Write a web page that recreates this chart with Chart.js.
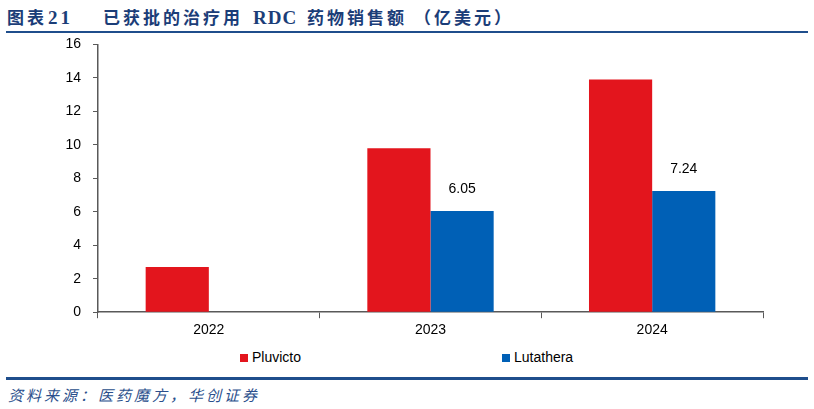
<!DOCTYPE html>
<html>
<head>
<meta charset="utf-8">
<script src="https://cdn.jsdelivr.net/npm/chart.js@4"></script>
<style>
  body { margin: 0; width: 814px; height: 409px; background: #fff; position: relative; overflow: hidden; }
  #title { position: absolute; left: 7px; top: 4px; font: bold 17px "Liberation Serif", "Noto Sans CJK SC"; color: #1b3d78; letter-spacing: 3px; white-space: nowrap; }
  #title span { display: inline-block; }
  #title .lat { font-size: 19px; letter-spacing: 1px; }
  #topline { position: absolute; left: 6px; right: 6px; top: 31px; height: 2px; background: #1f4e8c; }
  #wrap { position: absolute; left: 0; top: 24px; width: 814px; height: 319px; }
  .leg { position: absolute; top: 349px; font: 14px "Liberation Sans", Arial; color: #000; }
  .leg i { display: inline-block; width: 8px; height: 8px; margin-right: 4px; }
  #botline { position: absolute; left: 6px; right: 6px; top: 377px; height: 3px; background: #1f4e8c; }
  #source { position: absolute; left: 8px; top: 384px; font: italic 15px "Noto Sans CJK SC"; color: #2b4f8c; letter-spacing: 3px; }
</style>
</head>
<body>
<div id="title"><span style="width:41px">图表</span><span class="lat" style="width:55px;letter-spacing:3px">21</span><span style="width:150px">已获批的治疗用</span><span class="lat" style="width:54px">RDC</span><span style="width:107px">药物销售额</span><span>（亿美元）</span></div>
<div id="topline"></div>
<div id="wrap"><canvas id="c"></canvas></div>
<div class="leg" style="left:240px"><i style="background:#e3151d"></i>Pluvicto</div>
<div class="leg" style="left:502px"><i style="background:#0060b6"></i>Lutathera</div>
<div id="botline"></div>
<div id="source">资料来源：医药魔方，华创证券</div>
<script>
// ─── Data ────────────────────────────────
const years = ["2022", "2023", "2024"];
const pluvicto = [2.7, 9.8, 13.9];
const lutathera = [null, 6.05, 7.24];
const yTicks = [0, 2, 4, 6, 8, 10, 12, 14, 16];

const AXIS_COLOR = "#595959";
const TICK_FONT = { family: "Liberation Sans", size: 14 };

// value labels over the Lutathera bars only
const barLabels = {
  id: "barLabels",
  afterDatasetsDraw(chart) {
    const ctx = chart.ctx;
    const meta = chart.getDatasetMeta(1);
    ctx.save();
    ctx.font = "14px Liberation Sans";
    ctx.fillStyle = "#000";
    ctx.textAlign = "center";
    ctx.textBaseline = "bottom";
    meta.data.forEach((bar, i) => {
      const v = lutathera[i];
      if (v == null) return;
      ctx.fillText(v.toFixed(2), bar.x, bar.y - 15);
    });
    ctx.restore();
  }
};

new Chart(document.getElementById("c"), {
  type: "bar",
  data: {
    labels: years,
    datasets: [
      { label: "Pluvicto", data: pluvicto, backgroundColor: "#e3151d" },
      { label: "Lutathera", data: lutathera, backgroundColor: "#0060b6" }
    ]
  },
  options: {
    responsive: true,
    maintainAspectRatio: false,
    animation: false,
    categoryPercentage: 0.57,
    barPercentage: 1,
    layout: { padding: { top: 0, right: 51, bottom: 0, left: 0 } },
    plugins: { legend: { display: false }, tooltip: { enabled: false } },
    scales: {
      x: {
        grid: { drawOnChartArea: false, color: AXIS_COLOR, tickLength: 6, offset: true },
        border: { color: AXIS_COLOR, width: 1.5 },
        ticks: { color: "#000", font: TICK_FONT, padding: 4 }
      },
      y: {
        min: 0,
        max: 16,
        afterBuildTicks: s => { s.ticks = yTicks.map(v => ({ value: v })); },
        afterFit: s => { s.width = 98; },
        grid: { drawOnChartArea: false, color: AXIS_COLOR, tickLength: 5 },
        border: { color: AXIS_COLOR, width: 1.5 },
        ticks: { color: "#000", font: TICK_FONT, padding: 12 }
      }
    }
  },
  plugins: [barLabels]
});
</script>
</body>
</html>
